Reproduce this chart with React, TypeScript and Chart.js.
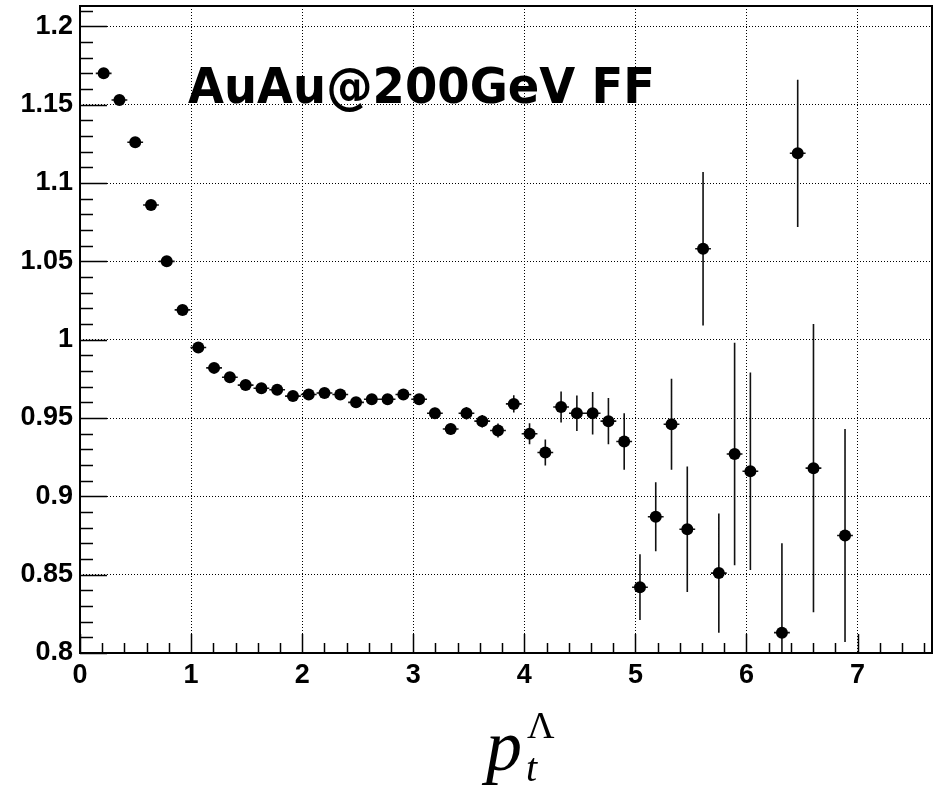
import React, { useEffect, useRef } from "react";
import { Chart, registerables } from "chart.js";

Chart.register(...registerables);

// bin centres (pt, GeV/c)
const X_VALUES = [
  0.213, 0.355, 0.497, 0.639, 0.781, 0.923, 1.065, 1.207, 1.349, 1.491,
  1.633, 1.775, 1.917, 2.059, 2.201, 2.343, 2.485, 2.627, 2.769, 2.911,
  3.053, 3.195, 3.337, 3.479, 3.621, 3.763, 3.905, 4.047, 4.189, 4.331,
  4.473, 4.615, 4.757, 4.899, 5.041, 5.183, 5.325, 5.467, 5.609, 5.751,
  5.893, 6.035, 6.319, 6.461, 6.603, 6.887,
];
const Y_VALUES = [
  1.170, 1.153, 1.126, 1.086, 1.050, 1.019, 0.995, 0.982, 0.976, 0.971,
  0.969, 0.968, 0.964, 0.965, 0.966, 0.965, 0.960, 0.962, 0.962, 0.965,
  0.962, 0.953, 0.943, 0.953, 0.948, 0.942, 0.959, 0.940, 0.928, 0.957,
  0.953, 0.953, 0.948, 0.935, 0.842, 0.887, 0.946, 0.879, 1.058, 0.851,
  0.927, 0.916, 0.813, 1.119, 0.918, 0.875,
];
const Y_ERRORS = [
  0.001, 0.001, 0.001, 0.001, 0.001, 0.001, 0.001, 0.001, 0.001, 0.001,
  0.0015, 0.0015, 0.0015, 0.002, 0.002, 0.002, 0.002, 0.0025, 0.0025, 0.003,
  0.003, 0.0035, 0.0035, 0.004, 0.004, 0.0045, 0.0055, 0.0067, 0.0083, 0.0099,
  0.0113, 0.0136, 0.0147, 0.018, 0.021, 0.022, 0.029, 0.040, 0.049, 0.038,
  0.071, 0.063, 0.057, 0.047, 0.092, 0.068,
];
const X_HALF_WIDTH = 0.071;

const X_MIN = 0;
const X_MAX = 7.67;
const Y_MIN = 0.8;
const Y_MAX = 1.213;

const X_TICKS = [0, 1, 2, 3, 4, 5, 6, 7];
const X_TICK_LABELS = ["0", "1", "2", "3", "4", "5", "6", "7"];
const Y_TICKS = [0.8, 0.85, 0.9, 0.95, 1.0, 1.05, 1.1, 1.15, 1.2];
const Y_TICK_LABELS = ["0.8", "0.85", "0.9", "0.95", "1", "1.05", "1.1", "1.15", "1.2"];
const X_MINOR_STEP = 0.2;
const Y_MINOR_STEP = 0.01;

const TITLE = "AuAu@200GeV FF";

const decorPlugin = {
  id: "rootDecor",
  beforeDatasetsDraw(chart: any) {
    const { ctx, chartArea } = chart;
    const xs = chart.scales.x;
    const ys = chart.scales.y;
    ctx.save();
    // axis ticks (inside frame)
    ctx.strokeStyle = "#000";
    ctx.lineWidth = 1.5;
    ctx.beginPath();
    for (let v = Y_MIN; v <= Y_MAX + 1e-9; v += Y_MINOR_STEP) {
      const r = Math.round(v * 100) / 100;
      const major = Y_TICKS.some((t) => Math.abs(t - r) < 1e-6);
      const py = Math.round(ys.getPixelForValue(r)) + 0.5;
      ctx.moveTo(chartArea.left, py);
      ctx.lineTo(chartArea.left + (major ? 27 : 13), py);
    }
    for (let v = X_MIN; v <= X_MAX + 1e-9; v += X_MINOR_STEP) {
      const r = Math.round(v * 10) / 10;
      const major = X_TICKS.some((t) => Math.abs(t - r) < 1e-6);
      const px = Math.round(xs.getPixelForValue(r)) + 0.5;
      ctx.moveTo(px, chartArea.bottom);
      ctx.lineTo(px, chartArea.bottom - (major ? 19 : 10));
    }
    ctx.stroke();

    // error bars
    ctx.strokeStyle = "#111";
    ctx.lineWidth = 1.6;
    ctx.beginPath();
    for (let i = 0; i < X_VALUES.length; i++) {
      const px = xs.getPixelForValue(X_VALUES[i]);
      const py = ys.getPixelForValue(Y_VALUES[i]);
      const top = Math.max(chartArea.top, ys.getPixelForValue(Y_VALUES[i] + Y_ERRORS[i]));
      const bot = Math.min(chartArea.bottom, ys.getPixelForValue(Y_VALUES[i] - Y_ERRORS[i]));
      ctx.moveTo(px, top);
      ctx.lineTo(px, bot);
      ctx.moveTo(xs.getPixelForValue(X_VALUES[i] - X_HALF_WIDTH), py);
      ctx.lineTo(xs.getPixelForValue(X_VALUES[i] + X_HALF_WIDTH), py);
    }
    ctx.stroke();
    ctx.restore();
  },
  afterDraw(chart: any) {
    const { ctx, chartArea } = chart;
    ctx.save();
    // frame
    ctx.strokeStyle = "#000";
    ctx.lineWidth = 2;
    ctx.strokeRect(chartArea.left, chartArea.top, chartArea.right - chartArea.left, chartArea.bottom - chartArea.top);

    // title text
    ctx.fillStyle = "#000";
    ctx.font = "bold 49px 'DejaVu Sans'";
    ctx.textBaseline = "alphabetic";
    ctx.textAlign = "left";
    const w = ctx.measureText(TITLE).width;
    const target = 467;
    ctx.save();
    ctx.translate(188, 103);
    ctx.scale(target / w, 1);
    ctx.fillText(TITLE, 0, 0);
    ctx.restore();

    // axis title p_t^Lambda
    ctx.font = "italic 72px 'Liberation Serif'";
    ctx.fillText("p", 486, 770);
    ctx.font = "italic 40px 'Liberation Serif'";
    ctx.fillText("t", 526, 781);
    ctx.font = "38px 'Liberation Serif'";
    ctx.fillText("\u039B", 527, 738);
    ctx.restore();
  },
};

export default function App() {
  const ref = useRef<HTMLCanvasElement | null>(null);
  useEffect(() => {
    if (!ref.current) return;
    const data = X_VALUES.map((x, i) => ({ x, y: Y_VALUES[i] }));
    const tickFont = { family: "'Liberation Sans'", size: 27, weight: "bold" as const };
    const chart = new Chart(ref.current, {
      type: "scatter",
      data: {
        datasets: [
          {
            data,
            pointRadius: 6,
            pointHoverRadius: 6,
            pointBackgroundColor: "#000",
            pointBorderColor: "#000",
            pointBorderWidth: 0,
            showLine: false,
          },
        ],
      },
      options: {
        responsive: false,
        animation: false,
        devicePixelRatio: 1,
        layout: { padding: { top: 5, right: 7, left: 0, bottom: 0 } },
        plugins: { legend: { display: false }, tooltip: { enabled: false } },
        scales: {
          x: {
            type: "linear",
            min: X_MIN,
            max: X_MAX,
            afterBuildTicks: (s: any) => {
              s.ticks = X_TICKS.map((v) => ({ value: v }));
            },
            afterFit: (s: any) => {
              s.height = 133;
              s.paddingLeft = 0;
              s.paddingRight = 0;
            },
            ticks: {
              color: "#000",
              font: tickFont,
              padding: 6,
              maxRotation: 0,
              autoSkip: false,
              callback: (v: any) => {
                const idx = X_TICKS.findIndex((t) => Math.abs(t - Number(v)) < 1e-6);
                return idx >= 0 ? X_TICK_LABELS[idx] : "";
              },
            },
            grid: { color: "#000", lineWidth: 1, drawTicks: false },
            border: { display: false, dash: [1, 2] },
          },
          y: {
            type: "linear",
            min: Y_MIN,
            max: Y_MAX,
            afterBuildTicks: (s: any) => {
              s.ticks = Y_TICKS.map((v) => ({ value: v }));
            },
            afterFit: (s: any) => {
              s.width = 80;
              s.paddingTop = 0;
              s.paddingBottom = 0;
            },
            ticks: {
              color: "#000",
              font: tickFont,
              padding: 7,
              autoSkip: false,
              callback: (v: any) => {
                const idx = Y_TICKS.findIndex((t) => Math.abs(t - Number(v)) < 1e-6);
                return idx >= 0 ? Y_TICK_LABELS[idx] : "";
              },
            },
            grid: { color: "#000", lineWidth: 1, drawTicks: false },
            border: { display: false, dash: [1, 2] },
          },
        },
      },
      plugins: [decorPlugin],
    });
    return () => chart.destroy();
  }, []);
  return (
    <div style={{ position: "fixed", left: 0, top: 0, width: 939, height: 786, background: "#fff" }}>
      <canvas ref={ref} width={939} height={786} style={{ display: "block" }} />
    </div>
  );
}
